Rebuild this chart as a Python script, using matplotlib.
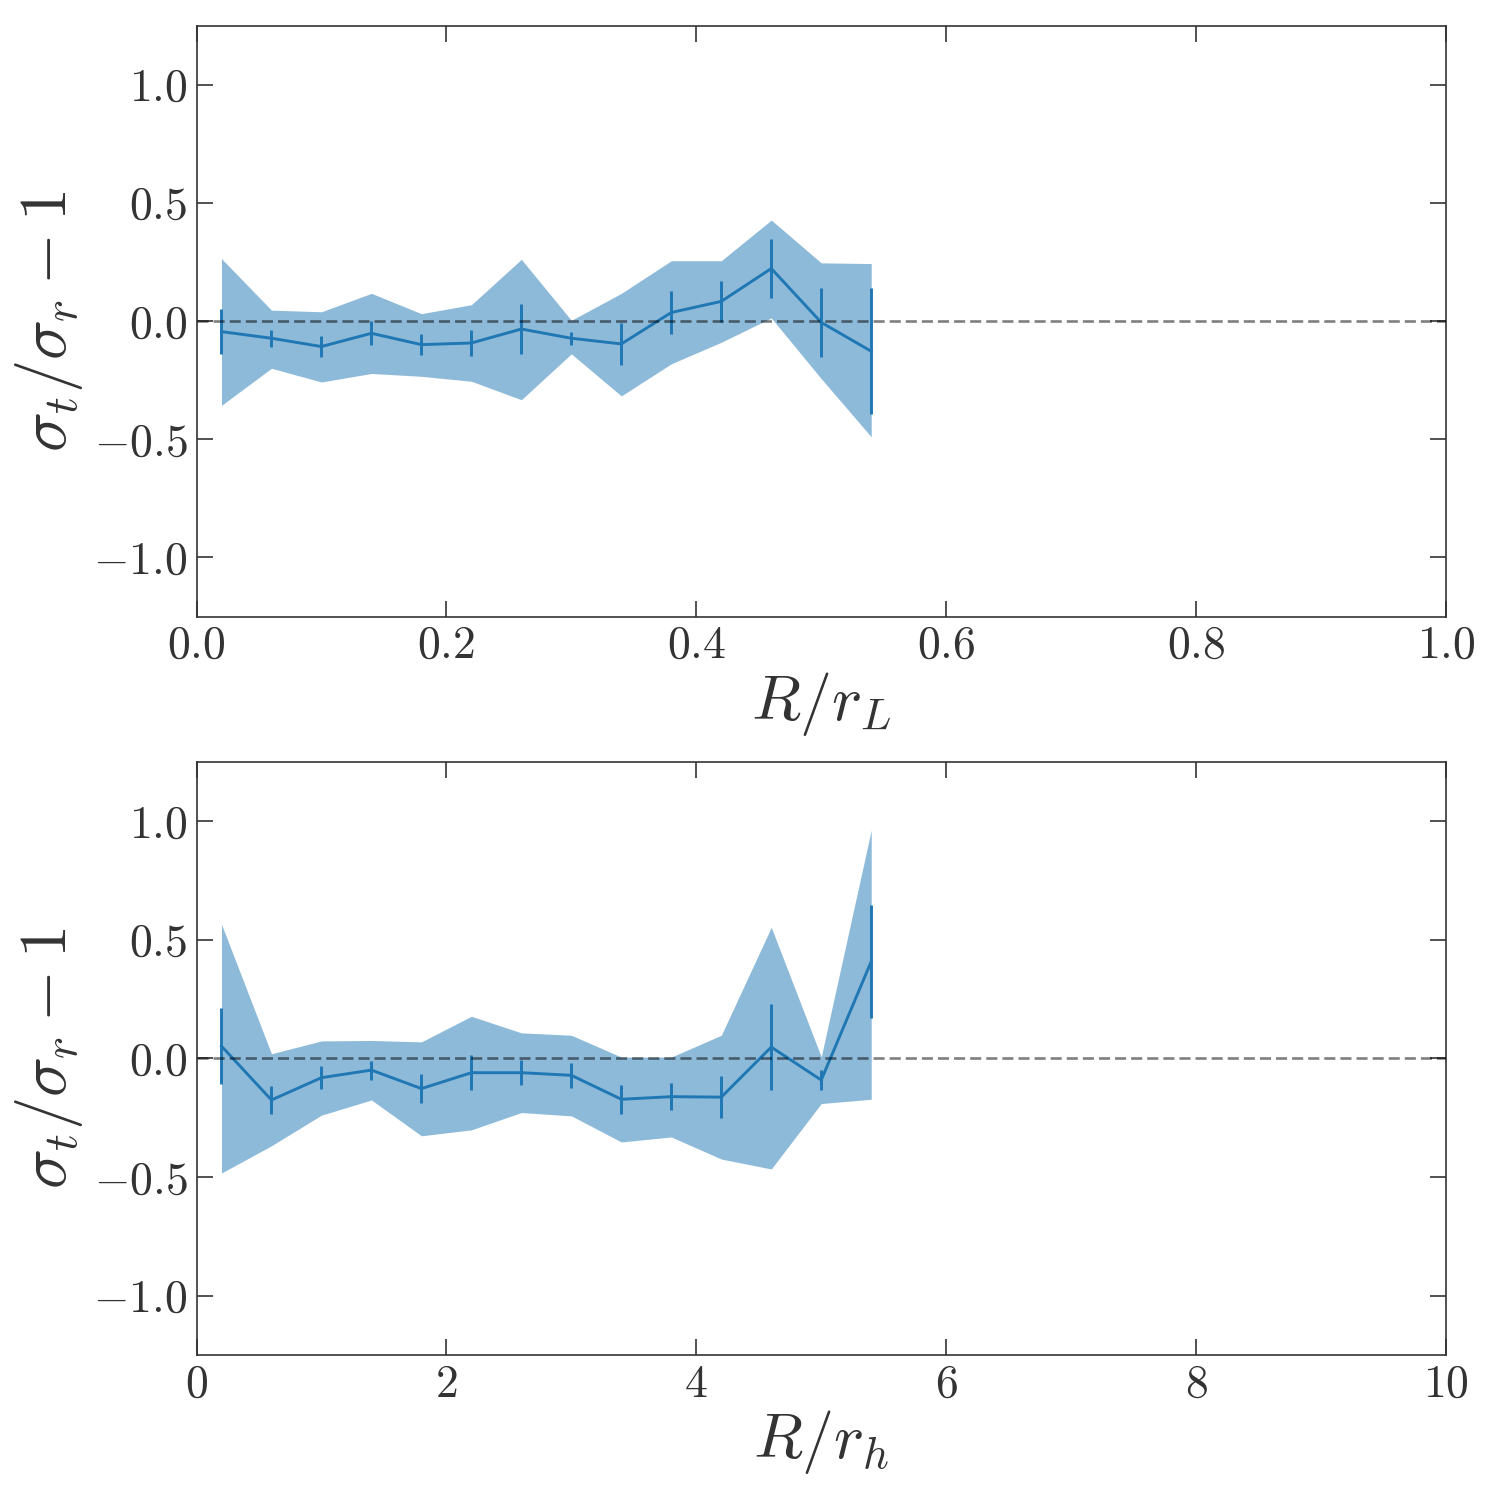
import numpy as np
import matplotlib
matplotlib.use("Agg")
import matplotlib.pyplot as plt
from matplotlib.ticker import FuncFormatter, MultipleLocator

plt.rcParams['mathtext.fontset'] = 'cm'
plt.rcParams['font.family'] = 'serif'
plt.rcParams['font.serif'] = ['cmr10', 'DejaVu Serif']
plt.rcParams['axes.unicode_minus'] = False

# ---- top panel: R / r_L ----
x_top = [0.02, 0.06, 0.10, 0.14, 0.18, 0.22, 0.26, 0.30, 0.34, 0.38, 0.42, 0.46, 0.50, 0.54]
y_top = [-0.045, -0.073, -0.108, -0.052, -0.100, -0.093, -0.034, -0.073, -0.097, 0.036, 0.083, 0.222, -0.006, -0.128]
err_top = [0.095, 0.037, 0.045, 0.050, 0.043, 0.054, 0.105, 0.028, 0.090, 0.090, 0.087, 0.123, 0.146, 0.266]
lo_top = [-0.357, -0.200, -0.258, -0.222, -0.234, -0.255, -0.333, -0.139, -0.317, -0.181, -0.090, 0.013, -0.244, -0.490]
hi_top = [0.264, 0.046, 0.039, 0.117, 0.031, 0.069, 0.261, 0.003, 0.117, 0.255, 0.255, 0.427, 0.246, 0.243]

# ---- bottom panel: R / r_h ----
x_bot = [0.2, 0.6, 1.0, 1.4, 1.8, 2.2, 2.6, 3.0, 3.4, 3.8, 4.2, 4.6, 5.0, 5.4]
y_bot = [0.052, -0.175, -0.081, -0.049, -0.127, -0.060, -0.060, -0.071, -0.172, -0.161, -0.163, 0.048, -0.091, 0.409]
err_bot = [0.160, 0.060, 0.048, 0.040, 0.061, 0.073, 0.053, 0.052, 0.062, 0.058, 0.088, 0.183, 0.041, 0.240]
lo_bot = [-0.483, -0.368, -0.239, -0.175, -0.326, -0.301, -0.228, -0.242, -0.352, -0.331, -0.424, -0.466, -0.190, -0.172]
hi_bot = [0.566, 0.020, 0.074, 0.076, 0.070, 0.178, 0.108, 0.098, 0.006, 0.006, 0.098, 0.553, 0.007, 0.963]

ylabel = r'$\sigma_t/\sigma_r - 1$'
yticks = [-1.0, -0.5, 0.0, 0.5, 1.0]

fig = plt.figure(figsize=(15, 15), dpi=100)
ax1 = fig.add_axes([0.131, 0.589, 0.833, 0.394])
ax2 = fig.add_axes([0.131, 0.0967, 0.833, 0.3953])

blue = '#1f77b4'
edge = '#333333'

def style(ax, xmax, xstep, xfmt, xlabel):
    ax.set_xlim(0, xmax)
    ax.set_ylim(-1.25, 1.25)
    ax.set_yticks(yticks)
    ax.xaxis.set_major_locator(MultipleLocator(xstep))
    ax.xaxis.set_major_formatter(FuncFormatter(lambda v, p: '$' + (xfmt % v) + '$'))
    ax.yaxis.set_major_formatter(FuncFormatter(lambda v, p: '$%.1f$' % v))
    ax.tick_params(direction='in', length=11.5, width=1.2, top=True, right=True,
                   labelsize=33, colors=edge, pad=6.5)
    for s in ax.spines.values():
        s.set_color(edge)
        s.set_linewidth(1.2)
    ax.set_xlabel(xlabel, fontsize=46, color=edge, labelpad=2)
    ax.set_ylabel(ylabel, fontsize=48, color=edge, labelpad=6)

for ax, x, y, e, lo, hi in [(ax1, x_top, y_top, err_top, lo_top, hi_top),
                            (ax2, x_bot, y_bot, err_bot, lo_bot, hi_bot)]:
    ax.fill_between(x, lo, hi, color=blue, alpha=0.5, linewidth=0, zorder=1)
    ax.errorbar(x, y, yerr=e, color=blue, lw=2.1, elinewidth=2.1, capsize=0, zorder=2)
    ax.axhline(0.0, color='black', alpha=0.5, ls='--', lw=1.9, dashes=(4.2, 1.9), zorder=3)

style(ax1, 1.0, 0.2, '%.1f', r'$R/r_L$')
style(ax2, 10, 2, '%d', r'$R/r_h$')

fig.savefig('out.png', dpi=100)
